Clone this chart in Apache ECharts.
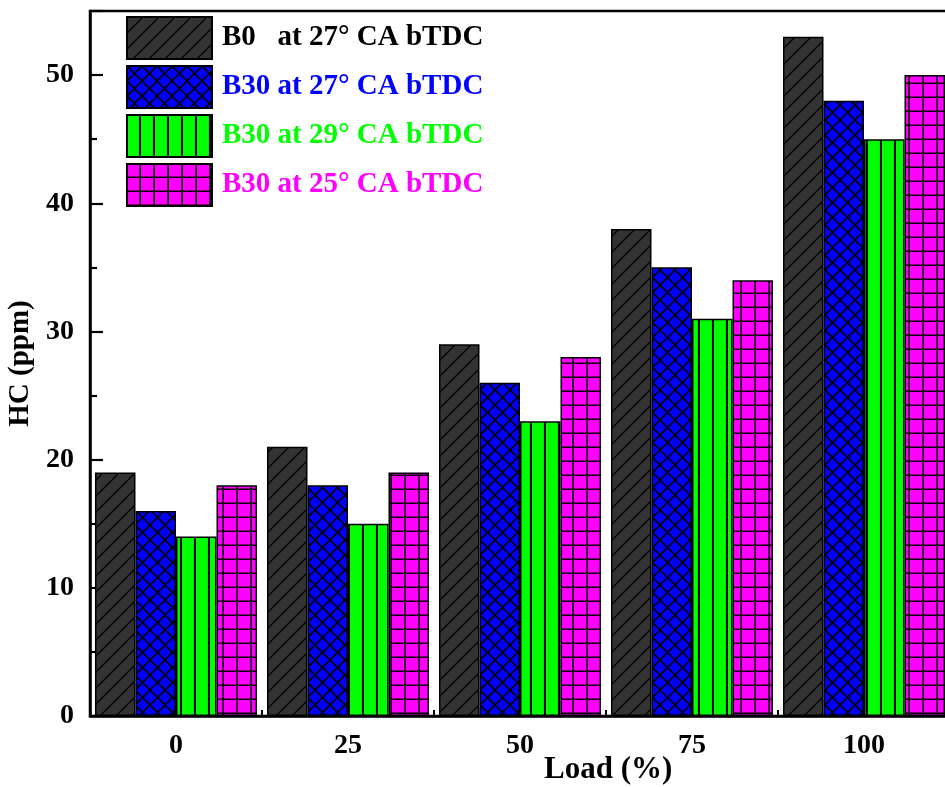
<!DOCTYPE html>
<html>
<head>
<meta charset="utf-8">
<script src="https://cdn.jsdelivr.net/npm/echarts@6/dist/echarts.min.js"></script>
<style>
  html, body { margin: 0; padding: 0; background: #fff; }
  #chart { width: 945px; height: 787px; }
</style>
</head>
<body>
<div id="chart"></div>
<script>
// Engine load categories and HC emissions for each fuel / injection timing
const loads = ['0', '25', '50', '75', '100'];
const seriesNames = [
  'B0   at 27° CA bTDC',
  'B30 at 27° CA bTDC',
  'B30 at 29° CA bTDC',
  'B30 at 25° CA bTDC'
];
const hcB0at27 = [19, 21, 29, 38, 53];
const hcB30at27 = [16, 18, 26, 35, 48];
const hcB30at29 = [14, 15, 23, 31, 45];
const hcB30at25 = [18, 19, 28, 34, 50];
const yTicks = [0, 10, 20, 30, 40, 50];

// Hatch fills drawn onto small tiles (at device resolution) and repeated
const dpr = window.devicePixelRatio || 1;
function pattern(bg, w, h, draw) {
  const c = document.createElement('canvas');
  c.width = Math.round(w * dpr);
  c.height = Math.round(h * dpr);
  const ctx = c.getContext('2d');
  ctx.scale(c.width / w, c.height / h);
  ctx.fillStyle = bg;
  ctx.fillRect(0, 0, w, h);
  ctx.strokeStyle = '#000';
  draw(ctx, w, h);
  return { image: c, repeat: 'repeat' };
}
const diagonal = pattern('#333333', 16, 16, (ctx, w, h) => {
  ctx.lineWidth = 1.3;
  ctx.beginPath();
  for (let k = -1; k <= 1; k++) { ctx.moveTo(k * w, h); ctx.lineTo(k * w + w, 0); }
  ctx.stroke();
});
const crossHatch = pattern('#0000ff', 15, 15, (ctx, w, h) => {
  ctx.lineWidth = 1.6;
  ctx.beginPath();
  for (let k = -1; k <= 1; k++) {
    ctx.moveTo(k * w, h); ctx.lineTo(k * w + w, 0);
    ctx.moveTo(k * w, 0); ctx.lineTo(k * w + w, h);
  }
  ctx.stroke();
});
const vertical = pattern('#00ff00', 13.5, 14, (ctx, w, h) => {
  ctx.lineWidth = 2;
  ctx.beginPath();
  ctx.moveTo(w - 1, 0); ctx.lineTo(w - 1, h);
  ctx.stroke();
});
const grid = pattern('#ff00ff', 13.5, 14, (ctx, w, h) => {
  ctx.lineWidth = 1.6;
  ctx.beginPath();
  ctx.moveTo(w - 0.8, 0); ctx.lineTo(w - 0.8, h);
  ctx.moveTo(0, h - 0.8); ctx.lineTo(w, h - 0.8);
  ctx.stroke();
});

const fills = [diagonal, crossHatch, vertical, grid];
const textColors = ['#000000', '#0000ff', '#00ff00', '#ff00ff'];
const values = [hcB0at27, hcB30at27, hcB30at29, hcB30at25];

const font = '"Liberation Serif", "Times New Roman", serif';

const chart = echarts.init(document.getElementById('chart'), null, { renderer: 'canvas' });
chart.setOption({
  backgroundColor: '#ffffff',
  animation: false,
  title: {
    text: 'Load (%)',
    left: 544,
    top: 754,
    padding: 0,
    textStyle: { fontFamily: font, fontWeight: 'bold', fontSize: 31, color: '#000' }
  },
  legend: {
    orient: 'vertical',
    left: 126,
    top: 16,
    icon: 'rect',
    itemWidth: 85,
    itemHeight: 42,
    itemGap: 5,
    padding: 0,
    data: seriesNames.map((n, i) => ({
      name: n,
      textStyle: { color: textColors[i] }
    })),
    textStyle: { fontFamily: font, fontWeight: 'bold', fontSize: 29, padding: [6, 0, 0, 5] }
  },
  grid: {
    left: 90,
    right: -5,
    top: 11,
    bottom: 71,
    show: true,
    borderColor: '#000',
    borderWidth: 2.5,
    containLabel: false,
    outerBoundsMode: 'none'
  },
  xAxis: {
    type: 'category',
    data: loads,
    axisLine: { show: true, lineStyle: { color: '#000', width: 2.5 } },
    axisTick: { show: true, inside: true, length: 6, lineStyle: { color: '#000', width: 2 } },
    axisLabel: { color: '#000', fontFamily: font, fontWeight: 'bold', fontSize: 28, margin: 16 },
    splitLine: { show: false }
  },
  yAxis: {
    type: 'value',
    name: 'HC (ppm)',
    nameLocation: 'middle',
    nameGap: 47,
    nameTextStyle: { fontFamily: font, fontWeight: 'bold', fontSize: 29, color: '#000' },
    min: yTicks[0],
    max: 55,
    interval: 10,
    axisLine: { show: true, lineStyle: { color: '#000', width: 2.5 } },
    axisTick: { show: true, inside: true, length: 13, lineStyle: { color: '#000', width: 2.2 } },
    minorTick: { show: true, splitNumber: 2, length: 7, lineStyle: { color: '#000', width: 2.2 } },
    axisLabel: {
      color: '#000', fontFamily: font, fontWeight: 'bold', fontSize: 28, margin: 16,
      showMaxLabel: false,
      formatter: v => (yTicks.includes(v) ? String(v) : '')
    },
    splitLine: { show: false }
  },
  series: values.map((vals, i) => ({
    name: seriesNames[i],
    type: 'bar',
    data: vals,
    barGap: '0%',
    barCategoryGap: '5.8%',
    itemStyle: { color: fills[i], borderColor: '#000', borderWidth: 1.5 }
  }))
});
</script>
</body>
</html>
